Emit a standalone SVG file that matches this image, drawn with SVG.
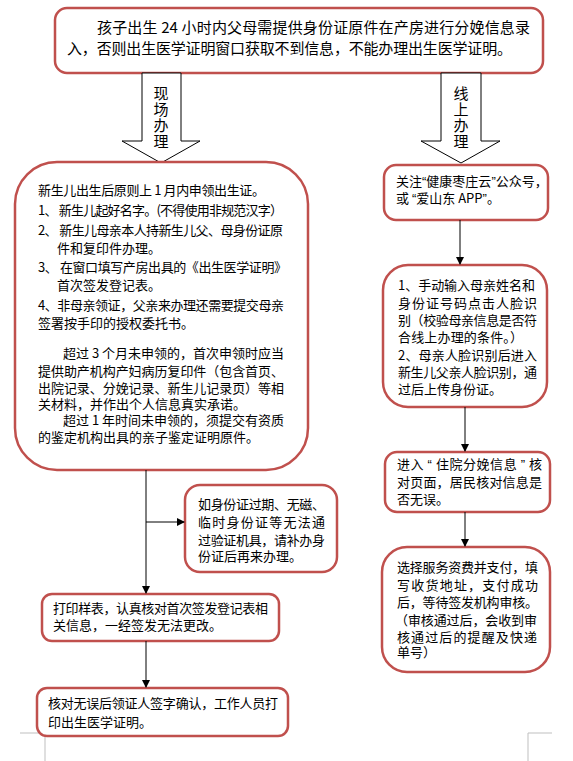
<svg xmlns="http://www.w3.org/2000/svg" width="573" height="761" viewBox="0 0 573 761">
<defs>
<style>
.box{fill:#ffffff;stroke:#c0504d;stroke-width:2.5}
.t{font-family:"Noto Sans CJK SC","Noto Sans",sans-serif;font-size:13px;fill:#000}
.tb{font-family:"Noto Sans CJK SC","Noto Sans",sans-serif;font-size:15px;fill:#000}
.vt{font-family:"Noto Sans CJK SC","Noto Sans",sans-serif;font-size:15px;fill:#000;writing-mode:vertical-rl;letter-spacing:1px}
.q{font-family:"Liberation Sans",sans-serif}
.big{fill:#ffffff;stroke:#000;stroke-width:1}
.c{stroke:#000;stroke-width:1;fill:none}
.mark{stroke:#bfbfbf;stroke-width:1;fill:none}
</style>
<marker id="ah" markerWidth="8" markerHeight="8" refX="7" refY="4" orient="auto" markerUnits="userSpaceOnUse">
<path d="M0,0 L8,4 L0,8 Z" fill="#000"/>
</marker>
</defs>
<rect width="573" height="761" fill="#ffffff"/>

<g id="page-marks">
<path class="mark" d="M20,733 H45 V761"/>
<path class="mark" d="M552,733 H528 V761"/>
</g>

<g id="top">
<rect class="box" x="55" y="8" width="488" height="65" rx="12"/>
<text class="tb" x="97" y="33" textLength="433" lengthAdjust="spacing">孩子出生 24 小时内父母需提供身份证原件在产房进行分娩信息录</text>
<text class="tb" x="67" y="54" textLength="445" lengthAdjust="spacing">入，否则出生医学证明窗口获取不到信息，不能办理出生医学证明。</text>
</g>

<g id="arrow-onsite">
<path class="big" d="M142,73 H181 V141 H200 L161,163 L122,141 H142 Z"/>
<text class="vt" x="161" y="86">现场办理</text>
</g>

<g id="arrow-online">
<path class="big" d="M441,73 H481 V141 H500 L461,163 L421,141 H441 Z"/>
<text class="vt" x="461" y="86">线上办理</text>
</g>

<g id="onsite-main">
<rect class="box" x="15" y="162" width="293" height="308" rx="42"/>
<text class="t" x="38" y="195" textLength="227" lengthAdjust="spacing">新生儿出生后原则上 1 月内申领出生证。</text>
<text class="t" x="38" y="215" textLength="245" lengthAdjust="spacing">1、 新生儿起好名字。(不得使用非规范汉字）</text>
<text class="t" x="38" y="235" textLength="245" lengthAdjust="spacing">2、 新生儿母亲本人持新生儿父、母身份证原</text>
<text class="t" x="57" y="253">件和复印件办理。</text>
<text class="t" x="38" y="272" textLength="249" lengthAdjust="spacing">3、 在窗口填写产房出具的《出生医学证明》</text>
<text class="t" x="57" y="290">首次签发登记表。</text>
<text class="t" x="38" y="310" textLength="246" lengthAdjust="spacing">4、非母亲领证，父亲来办理还需要提交母亲</text>
<text class="t" x="38" y="328">签署按手印的授权委托书。</text>
<text class="t" x="63" y="358" textLength="221" lengthAdjust="spacing">超过 3 个月未申领的，首次申领时应当</text>
<text class="t" x="38" y="376" textLength="246" lengthAdjust="spacing">提供助产机构产妇病历复印件（包含首页、</text>
<text class="t" x="38" y="393" textLength="246" lengthAdjust="spacing">出院记录、分娩记录、新生儿记录页）等相</text>
<text class="t" x="38" y="409">关材料，并作出个人信息真实承诺。</text>
<text class="t" x="63" y="425" textLength="221" lengthAdjust="spacing">超过 1 年时间未申领的，须提交有资质</text>
<text class="t" x="38" y="442">的鉴定机构出具的亲子鉴定证明原件。</text>
</g>

<g id="onsite-id-note">
<rect class="box" x="185" y="485" width="152" height="87" rx="15"/>
<text class="t" x="198" y="509" textLength="127" lengthAdjust="spacing">如身份证过期、无磁、</text>
<text class="t" x="198" y="527" textLength="127" lengthAdjust="spacing">临时身份证等无法通</text>
<text class="t" x="198" y="545" textLength="127" lengthAdjust="spacing">过验证机具，请补办身</text>
<text class="t" x="198" y="561">份证后再来办理。</text>
</g>

<g id="onsite-print">
<rect class="box" x="42" y="594" width="237" height="47" rx="10"/>
<text class="t" x="53" y="613" textLength="215" lengthAdjust="spacing">打印样表，认真核对首次签发登记表相</text>
<text class="t" x="53" y="630">关信息，一经签发无法更改。</text>
</g>

<g id="onsite-final">
<rect class="box" x="37" y="688" width="251" height="48" rx="10"/>
<text class="t" x="48" y="708" textLength="230" lengthAdjust="spacing">核对无误后领证人签字确认，工作人员打</text>
<text class="t" x="48" y="727">印出生医学证明。</text>
</g>

<g id="online-follow">
<rect class="box" x="384" y="165" width="164" height="55" rx="12"/>
<text class="t" x="396" y="186">关注<tspan class="q">“</tspan>健康枣庄云<tspan class="q">”</tspan>公众号，</text>
<text class="t" x="396" y="203">或 <tspan class="q">“</tspan>爱山东 APP<tspan class="q">”</tspan>。</text>
</g>

<g id="online-face">
<rect class="box" x="383" y="265" width="164" height="142" rx="25"/>
<text class="t" x="398" y="290" textLength="137" lengthAdjust="spacing">1、手动输入母亲姓名和</text>
<text class="t" x="398" y="308" textLength="139" lengthAdjust="spacing">身份证号码点击人脸识</text>
<text class="t" x="398" y="325" textLength="139" lengthAdjust="spacing">别（校验母亲信息是否符</text>
<text class="t" x="398" y="342" textLength="125" lengthAdjust="spacing">合线上办理的条件。）</text>
<text class="t" x="398" y="360" textLength="139" lengthAdjust="spacing">2、母亲人脸识别后进入</text>
<text class="t" x="398" y="377" textLength="139" lengthAdjust="spacing">新生儿父亲人脸识别，通</text>
<text class="t" x="398" y="394">过后上传身份证。</text>
</g>

<g id="online-check">
<rect class="box" x="385" y="452" width="165" height="60" rx="12"/>
<text class="t" x="397" y="469" textLength="145" lengthAdjust="spacing">进入 <tspan class="q">“</tspan> 住院分娩信息 <tspan class="q">”</tspan> 核</text>
<text class="t" x="397" y="487" textLength="145" lengthAdjust="spacing">对页面，居民核对信息是</text>
<text class="t" x="397" y="504">否无误。</text>
</g>

<g id="online-pay">
<rect class="box" x="382" y="547" width="168" height="125" rx="25"/>
<text class="t" x="397" y="572" textLength="141" lengthAdjust="spacing">选择服务资费并支付，填</text>
<text class="t" x="397" y="590" textLength="141" lengthAdjust="spacing">写收货地址，支付成功</text>
<text class="t" x="397" y="607" textLength="141" lengthAdjust="spacing">后，等待签发机构审核。</text>
<text class="t" x="395" y="625" textLength="142" lengthAdjust="spacing">（审核通过后，会收到审</text>
<text class="t" x="397" y="642" textLength="140" lengthAdjust="spacing">核通过后的提醒及快递</text>
<text class="t" x="397" y="657">单号）</text>
</g>

<g id="connectors">
<line class="c" x1="146" y1="470" x2="146" y2="593" marker-end="url(#ah)"/>
<line class="c" x1="146" y1="522" x2="184" y2="522" marker-end="url(#ah)"/>
<line class="c" x1="146" y1="641" x2="146" y2="687" marker-end="url(#ah)"/>
<line class="c" x1="460" y1="220" x2="460" y2="264" marker-end="url(#ah)"/>
<line class="c" x1="465" y1="407" x2="465" y2="451" marker-end="url(#ah)"/>
<line class="c" x1="465" y1="512" x2="465" y2="546" marker-end="url(#ah)"/>
</g>
</svg>
